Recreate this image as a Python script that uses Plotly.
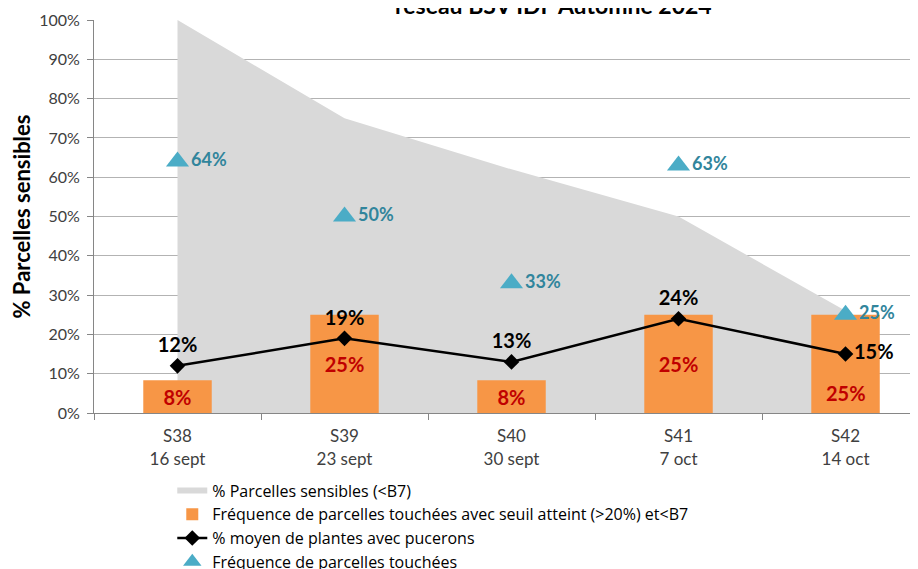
import plotly.graph_objects as go

semaines = ["S38", "S39", "S40", "S41", "S42"]
dates = ["16 sept", "23 sept", "30 sept", "7 oct", "14 oct"]
sensibles = [100, 75, 62, 50, 26]
seuil_atteint = [8.33, 25, 8.33, 25, 25]
moyen_plantes = [12, 19, 13, 24, 15]
frequence_touchees = [64, 50, 33, 63, 25]

noms = [
    "% Parcelles sensibles (<B7)",
    "Fréquence de parcelles touchées avec seuil atteint (>20%) et<B7",
    "% moyen de plantes avec pucerons",
    "Fréquence de parcelles touchées",
]
titre = "réseau BSV IDF Automne 2024"

cats = [f"{s}<br>{d}" for s, d in zip(semaines, dates)]
FONT = "Lato, Carlito, Calibri, sans-serif"

bar_labels = [f"{round(v)}%" for v in seuil_atteint]

fig = go.Figure()
fig.add_trace(go.Scatter(
    x=cats, y=sensibles, name=noms[0], mode="none", fill="tozeroy",
    fillcolor="#D9D9D9", yaxis="y", hoverinfo="skip"))
fig.add_trace(go.Bar(
    x=cats, y=seuil_atteint, name=noms[1], yaxis="y2",
    marker=dict(color="#F79646", line=dict(width=0)), width=0.41,
    text=bar_labels[:-1] + [""], textposition="inside",
    insidetextanchor="middle", constraintext="none",
    textfont=dict(color="#C00000", size=20, family=FONT, weight="bold")))
fig.add_trace(go.Scatter(
    x=cats, y=moyen_plantes, name=noms[2], yaxis="y2",
    mode="lines+markers+text",
    line=dict(color="black", width=2.5),
    marker=dict(symbol="diamond", size=12, color="black"),
    text=[f"{v}%" for v in moyen_plantes],
    textposition=["top center"] * 4 + ["middle right"],
    textfont=dict(color="black", size=20, family=FONT, weight="bold")))
fig.add_trace(go.Scatter(
    x=cats, y=frequence_touchees, name=noms[3], yaxis="y2",
    mode="markers+text",
    marker=dict(symbol="triangle-up", size=20, color="#4BACC6"),
    text=[f"{v}%" for v in frequence_touchees], textposition="middle right",
    textfont=dict(color="#31859C", size=18, family=FONT, weight="bold")))

fig.update_layout(
    width=918, height=569,
    margin=dict(l=86, r=8, t=12, b=164, autoexpand=False),
    paper_bgcolor="white", plot_bgcolor="white",
    font=dict(family=FONT, color="#404040", size=16),
    showlegend=True,
    legend=dict(x=0.095, xanchor="left", y=-0.154, yanchor="top",
                font=dict(size=16, color="black", family="Open Sans, sans-serif"),
                tracegroupgap=0, bgcolor="rgba(0,0,0,0)"),
    xaxis=dict(type="category", range=[-0.5, 4.434], showgrid=False,
               showline=True, linecolor="#868686", linewidth=1,
               ticks="outside", tickson="boundaries", ticklen=6,
               tickcolor="#868686", ticklabelstandoff=8,
               tickfont=dict(size=17, color="#404040")),
    yaxis=dict(range=[0, 100], dtick=10, ticksuffix="%", showgrid=True,
               gridcolor="#B3B3B3", gridwidth=1, showline=True,
               linecolor="#868686", ticks="outside", ticklen=6,
               tickcolor="#868686", zeroline=False, ticklabelstandoff=4,
               tickfont=dict(size=16, color="#404040"),
               title=dict(text="% Parcelles sensibles", standoff=6,
                          font=dict(size=22, color="black", family=FONT, weight="bold"))),
    yaxis2=dict(range=[0, 100], overlaying="y", visible=False),
    annotations=[
        dict(text=f"<b>{titre}</b>", xref="paper", yref="paper",
             x=0.558, y=1.038, xanchor="center", yanchor="middle",
             showarrow=False, font=dict(size=23, color="black", family=FONT)),
        dict(text=bar_labels[-1], xref="x", yref="y2", x=cats[-1], y=0,
             xanchor="center", yanchor="bottom", yshift=6, showarrow=False,
             font=dict(color="#C00000", size=20, family=FONT, weight="bold")),
    ],
)

fig.write_html("out.html")
